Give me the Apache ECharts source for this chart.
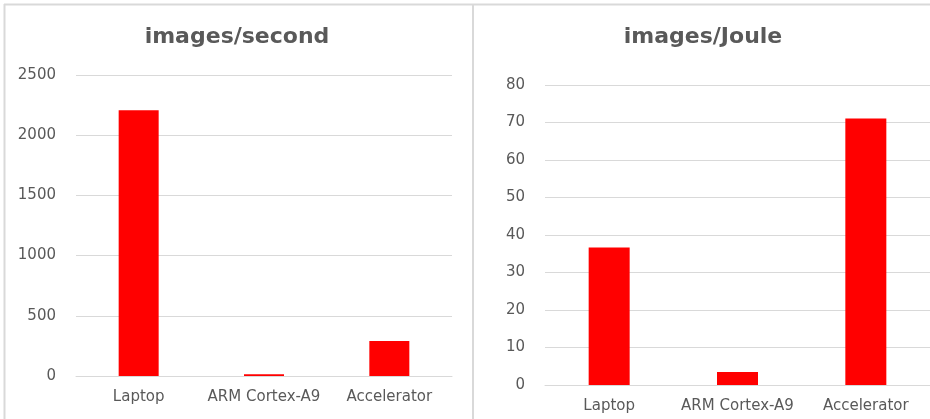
<!DOCTYPE html>
<html>
<head>
<meta charset="utf-8">
<style>
  html, body { margin: 0; padding: 0; background: #ffffff; }
  #chart { width: 930px; height: 419px; }
</style>
<script src="https://cdn.jsdelivr.net/npm/echarts@6/dist/echarts.min.js"></script>
</head>
<body>
<div id="chart"></div>
<script>
// Platforms compared in both panels
const categories = ['Laptop', 'ARM Cortex-A9', 'Accelerator'];

// Throughput (images per second)
const imagesPerSecond = [2208, 15, 290];

// Energy efficiency (images per Joule)
const imagesPerJoule = [36.7, 3.5, 71.1];

const textGray = '#595959';
const lineGray = '#d9d9d9';
const barRed = '#ff0000';
const labelFont = 'DejaVu Sans';

function valueAxis(gridIndex, max, interval) {
  return {
    type: 'value',
    gridIndex: gridIndex,
    min: 0,
    max: max,
    interval: interval,
    axisLine: { show: false },
    axisTick: { show: false },
    axisLabel: {
      color: textGray, fontFamily: labelFont, fontSize: 15, margin: 20,
      formatter: function (v) { return String(v); }
    },
    splitLine: { lineStyle: { color: lineGray, width: 1 } }
  };
}

function categoryAxis(gridIndex) {
  return {
    type: 'category',
    gridIndex: gridIndex,
    data: categories,
    axisLine: { lineStyle: { color: lineGray, width: 1 } },
    axisTick: { show: false },
    axisLabel: { color: textGray, fontFamily: labelFont, fontSize: 15, margin: 14, interval: 0 }
  };
}

const chart = echarts.init(document.getElementById('chart'), null, { renderer: 'canvas' });

chart.setOption({
  backgroundColor: '#ffffff',
  animation: false,
  title: [
    {
      text: 'images/second',
      left: 237, top: 26, textAlign: 'center', padding: 0,
      textStyle: { color: textGray, fontFamily: labelFont, fontSize: 22, fontWeight: 'bold' }
    },
    {
      text: 'images/Joule',
      left: 703, top: 26, textAlign: 'center', padding: 0,
      textStyle: { color: textGray, fontFamily: labelFont, fontSize: 22, fontWeight: 'bold' }
    }
  ],
  grid: [
    { left: 76, right: 478, top: 75, bottom: 43 },
    { left: 545, right: 0, top: 85, bottom: 34 }
  ],
  xAxis: [categoryAxis(0), categoryAxis(1)],
  yAxis: [valueAxis(0, 2500, 500), valueAxis(1, 80, 10)],
  series: [
    {
      name: 'images/second',
      type: 'bar',
      xAxisIndex: 0, yAxisIndex: 0,
      data: imagesPerSecond,
      barWidth: 40,
      itemStyle: { color: barRed }
    },
    {
      name: 'images/Joule',
      type: 'bar',
      xAxisIndex: 1, yAxisIndex: 1,
      data: imagesPerJoule,
      barWidth: 41,
      itemStyle: { color: barRed }
    }
  ],
  graphic: [
    // panel frames
    { type: 'line', shape: { x1: 4, y1: 4.5, x2: 930, y2: 4.5 }, style: { stroke: lineGray, lineWidth: 2 }, silent: true },
    { type: 'line', shape: { x1: 4.5, y1: 4, x2: 4.5, y2: 419 }, style: { stroke: lineGray, lineWidth: 2 }, silent: true },
    { type: 'line', shape: { x1: 473, y1: 4, x2: 473, y2: 419 }, style: { stroke: lineGray, lineWidth: 2 }, silent: true }
  ]
});
</script>
</body>
</html>
